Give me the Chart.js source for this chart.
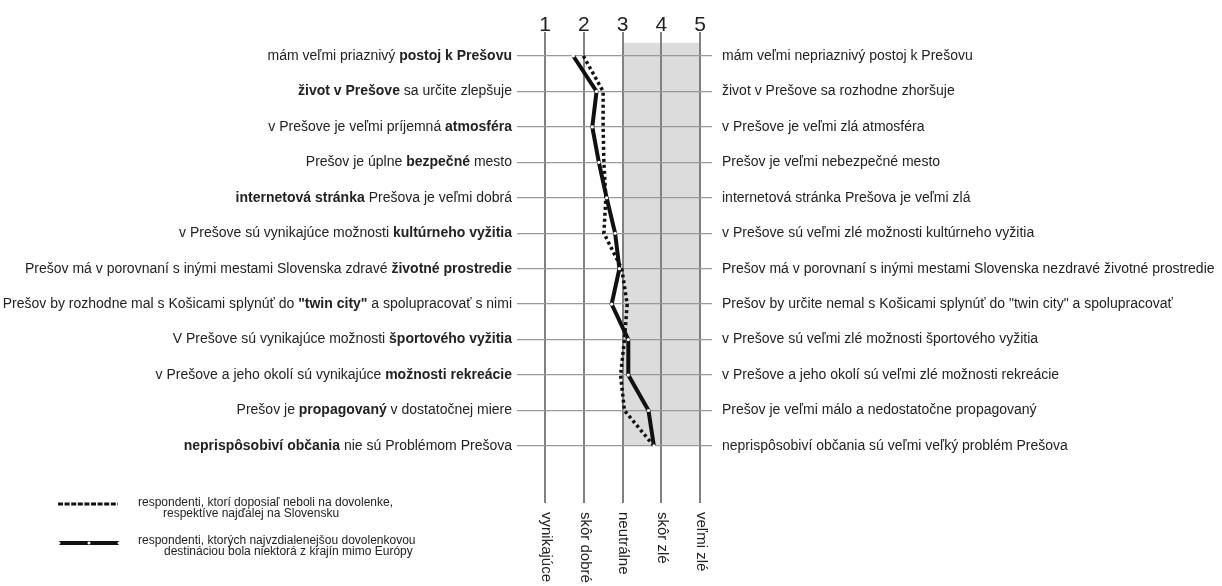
<!DOCTYPE html>
<html><head><meta charset="utf-8">
<script src="https://cdn.jsdelivr.net/npm/chart.js@4"></script>
<style>html,body{margin:0;padding:0;background:#fff}canvas{display:block}</style>
</head><body>
<canvas id="c" width="1222" height="586"></canvas>
<script>
// ---- data ----
const leftLabels = [
  'mám veľmi priaznivý **postoj k Prešovu**',
  '**život v Prešove** sa určite zlepšuje',
  'v Prešove je veľmi príjemná **atmosféra**',
  'Prešov je úplne **bezpečné** mesto',
  '**internetová stránka** Prešova je veľmi dobrá',
  'v Prešove sú vynikajúce možnosti **kultúrneho vyžitia**',
  'Prešov má v porovnaní s inými mestami Slovenska zdravé **životné prostredie**',
  'Prešov by rozhodne mal s Košicami splynúť do **"twin city"** a spolupracovať s nimi',
  'V Prešove sú vynikajúce možnosti **športového vyžitia**',
  'v Prešove a jeho okolí sú vynikajúce **možnosti rekreácie**',
  'Prešov je **propagovaný** v dostatočnej miere',
  '**neprispôsobiví občania** nie sú Problémom Prešova'
];
const rightLabels = [
  'mám veľmi nepriaznivý postoj k Prešovu',
  'život v Prešove sa rozhodne zhoršuje',
  'v Prešove je veľmi zlá atmosféra',
  'Prešov je veľmi nebezpečné mesto',
  'internetová stránka Prešova je veľmi zlá',
  'v Prešove sú veľmi zlé možnosti kultúrneho vyžitia',
  'Prešov má v porovnaní s inými mestami Slovenska nezdravé životné prostredie',
  'Prešov by určite nemal s Košicami splynúť do "twin city" a spolupracovať',
  'v Prešove sú veľmi zlé možnosti športového vyžitia',
  'v Prešove a jeho okolí sú veľmi zlé možnosti rekreácie',
  'Prešov je veľmi málo a nedostatočne propagovaný',
  'neprispôsobiví občania sú veľmi veľký problém Prešova'
];
const scaleValues = [1, 2, 3, 4, 5];
const scaleNames = ['vynikajúce', 'skôr dobré', 'neutrálne', 'skôr zlé', 'veľmi zlé'];
const seriesFar = [1.73, 2.33, 2.22, 2.39, 2.59, 2.81, 2.92, 2.72, 3.15, 3.15, 3.67, 3.81];
const seriesNear = [1.99, 2.50, 2.50, 2.52, 2.57, 2.52, 2.98, 3.12, 3.05, 2.95, 3.05, 3.81];
const legendNear = ['respondenti, ktorí doposiaľ neboli na dovolenke,', 'respektíve najďalej na Slovensku'];
const legendFar = ['respondenti, ktorých najvzdialenejšou dovolenkovou', 'destináciou bola niektorá z krajín mimo Európy'];
const shadeFrom = 3, shadeTo = 5;

const rows = leftLabels.map((_, i) => i + 1);
const FONT = '"Liberation Sans", Arial, sans-serif';
const LBL = '14px ';

function richSegments(s) {
  return s.split('**').map((t, i) => ({ t, bold: i % 2 === 1 })).filter(p => p.t.length);
}

const decor = {
  id: 'decor',
  beforeDraw(chart) {
    const ctx = chart.ctx, x = chart.scales.x, y = chart.scales.y;
    ctx.save();
    ctx.fillStyle = '#dcdcdc';
    const x0 = x.getPixelForValue(shadeFrom), x1 = x.getPixelForValue(shadeTo);
    const y0 = y.getPixelForValue(0.63), y1 = y.getPixelForValue(rows.length);
    ctx.fillRect(x0, y0, x1 - x0, y1 - y0);
    ctx.restore();
  },
  afterDraw(chart) {
    const ctx = chart.ctx, x = chart.scales.x, y = chart.scales.y, a = chart.chartArea;
    ctx.save();
    ctx.fillStyle = '#222';
    // top numbers
    ctx.font = '21px ' + FONT;
    ctx.textAlign = 'center';
    ctx.textBaseline = 'alphabetic';
    scaleValues.forEach(v => ctx.fillText(String(v), x.getPixelForValue(v), 31));
    // bottom rotated names
    ctx.font = '15px ' + FONT;
    scaleNames.forEach((n, i) => {
      ctx.save();
      ctx.translate(x.getPixelForValue(scaleValues[i]) + 1, a.bottom + 9);
      ctx.rotate(Math.PI / 2);
      ctx.textAlign = 'left';
      ctx.textBaseline = 'middle';
      ctx.fillText(n, 0, 0);
      ctx.restore();
    });
    // left labels
    ctx.textBaseline = 'middle';
    ctx.textAlign = 'left';
    leftLabels.forEach((lab, i) => {
      const segs = richSegments(lab);
      let w = 0;
      segs.forEach(s => { ctx.font = (s.bold ? 'bold ' : '') + LBL + FONT; s.w = ctx.measureText(s.t).width; w += s.w; });
      let px = a.left - 5 - w;
      const py = y.getPixelForValue(rows[i]);
      segs.forEach(s => { ctx.font = (s.bold ? 'bold ' : '') + LBL + FONT; ctx.fillText(s.t, px, py); px += s.w; });
    });
    // right labels
    ctx.font = LBL + FONT;
    rightLabels.forEach((lab, i) => ctx.fillText(lab, a.right + 10, y.getPixelForValue(rows[i])));
    // legend
    ctx.lineCap = 'butt';
    ctx.strokeStyle = '#111';
    ctx.lineWidth = 3;
    ctx.setLineDash([5, 1.6]);
    ctx.beginPath(); ctx.moveTo(58, 504); ctx.lineTo(118, 504); ctx.stroke();
    ctx.setLineDash([]);
    ctx.lineWidth = 4;
    ctx.beginPath(); ctx.moveTo(59, 543); ctx.lineTo(119, 543); ctx.stroke();
    ctx.fillStyle = '#fff';
    [59, 89, 119].forEach(cx => { ctx.beginPath(); ctx.arc(cx, 543, 1.5, 0, Math.PI * 2); ctx.fill(); });
    ctx.fillStyle = '#222';
    ctx.font = '12px ' + FONT;
    ctx.textAlign = 'left';
    ctx.textBaseline = 'middle';
    ctx.fillText(legendNear[0], 138, 503);
    ctx.fillText(legendNear[1], 163, 514);
    ctx.fillText(legendFar[0], 138, 541);
    ctx.fillText(legendFar[1], 164, 552);
    ctx.restore();
  }
};

new Chart(document.getElementById('c'), {
  type: 'line',
  data: {
    datasets: [
      {
        label: legendFar.join(' '),
        data: rows.map((r, i) => ({ x: seriesFar[i], y: r })),
        borderColor: '#111',
        borderWidth: 4,
        pointRadius: 1.6,
        pointBackgroundColor: '#fff',
        pointBorderWidth: 0,
        tension: 0,
        order: 0
      },
      {
        label: legendNear.join(' '),
        data: rows.map((r, i) => ({ x: seriesNear[i], y: r })),
        borderColor: '#111',
        borderWidth: 3.5,
        borderDash: [3, 3],
        pointRadius: 0,
        tension: 0,
        order: 1
      }
    ]
  },
  options: {
    responsive: false,
    animation: false,
    devicePixelRatio: 1,
    layout: { padding: { left: 517, right: 510, top: 32, bottom: 83 } },
    plugins: { legend: { display: false }, tooltip: { enabled: false } },
    scales: {
      x: {
        type: 'linear', min: 0.277, max: 5.31,
        afterBuildTicks: ax => { ax.ticks = scaleValues.map(v => ({ value: v })); },
        ticks: { display: false },
        grid: { color: '#808080', lineWidth: 2, drawTicks: false },
        border: { display: false }
      },
      y: {
        type: 'linear', reverse: true, min: 0.323, max: 13.61,
        afterBuildTicks: ax => { ax.ticks = rows.map(v => ({ value: v })); },
        ticks: { display: false },
        grid: { color: '#999', lineWidth: 1.3, drawTicks: false },
        border: { display: false }
      }
    }
  },
  plugins: [decor]
});
</script>
</body></html>
